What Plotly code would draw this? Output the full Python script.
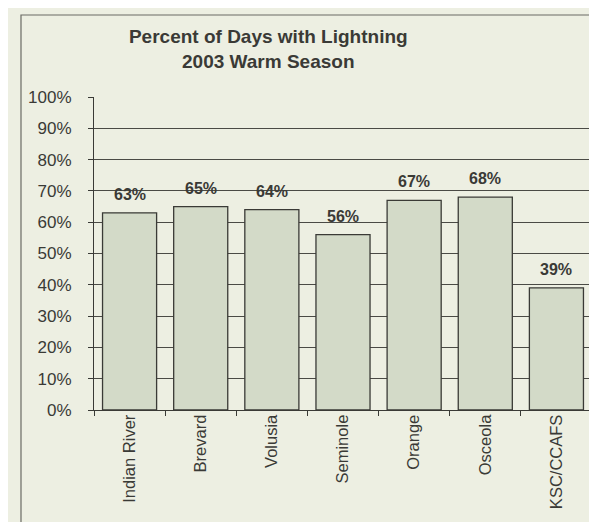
import plotly.graph_objects as go

# data
counties = ["Indian River", "Brevard", "Volusia", "Seminole", "Orange", "Osceola", "KSC/CCAFS"]
pct_days = [63, 65, 64, 56, 67, 68, 39]
y_ticks = [0, 10, 20, 30, 40, 50, 60, 70, 80, 90, 100]

BG = "#edefe2"
BAR = "#d3dac8"
INK = "#3a3a36"

fig = go.Figure()
fig.add_trace(go.Bar(
    x=counties,
    y=pct_days,
    marker=dict(color=BAR, line=dict(color=INK, width=1.3)),
    showlegend=False,
    hovertemplate="%{x}: %{y}%<extra></extra>",
))

# value labels sit a little higher above the bars than plotly's "outside" text
for name, v in zip(counties, pct_days):
    fig.add_annotation(
        x=name, y=v, text=f"<b>{v}%</b>",
        showarrow=False, yanchor="bottom", yshift=8,
        font=dict(family="Liberation Sans, Arial", size=16, color=INK),
    )

# outer chart frame
fig.add_shape(type="rect", xref="paper", yref="paper",
              x0=-0.1466, x1=1.012, y0=-0.377, y1=1.262,
              line=dict(color="#6a6a64", width=1.2), layer="below")

fig.update_layout(
    width=597, height=522,
    paper_bgcolor=BG,
    plot_bgcolor=BG,
    font=dict(family="Liberation Sans, Arial", color=INK, size=17),
    title=dict(
        text="<b>Percent of Days with Lightning<br>2003 Warm Season</b>",
        font=dict(size=19, color=INK),
        x=0.436, xanchor="center",
        y=0.933, yanchor="middle",
    ),
    bargap=0.24,
    margin=dict(l=86, r=13, t=89, b=120),
    xaxis=dict(
        tickangle=-90,
        showline=True, linecolor=INK, linewidth=1.2,
        ticks="outside", tickson="boundaries", ticklen=5, tickcolor=INK,
        tickfont=dict(size=16.5),
        ticklabelstandoff=-3,
        showgrid=False,
    ),
    yaxis=dict(
        range=[0, 100],
        tickvals=y_ticks,
        ticktext=[f"{v}%" for v in y_ticks],
        showline=True, linecolor=INK, linewidth=1.2,
        ticks="outside", ticklen=5, tickcolor=INK,
        ticklabelstandoff=13,
        showgrid=True, gridcolor="#4a4a45", gridwidth=1,
        zeroline=False,
        tickfont=dict(size=17),
    ),
)

fig.write_html("out.html")
